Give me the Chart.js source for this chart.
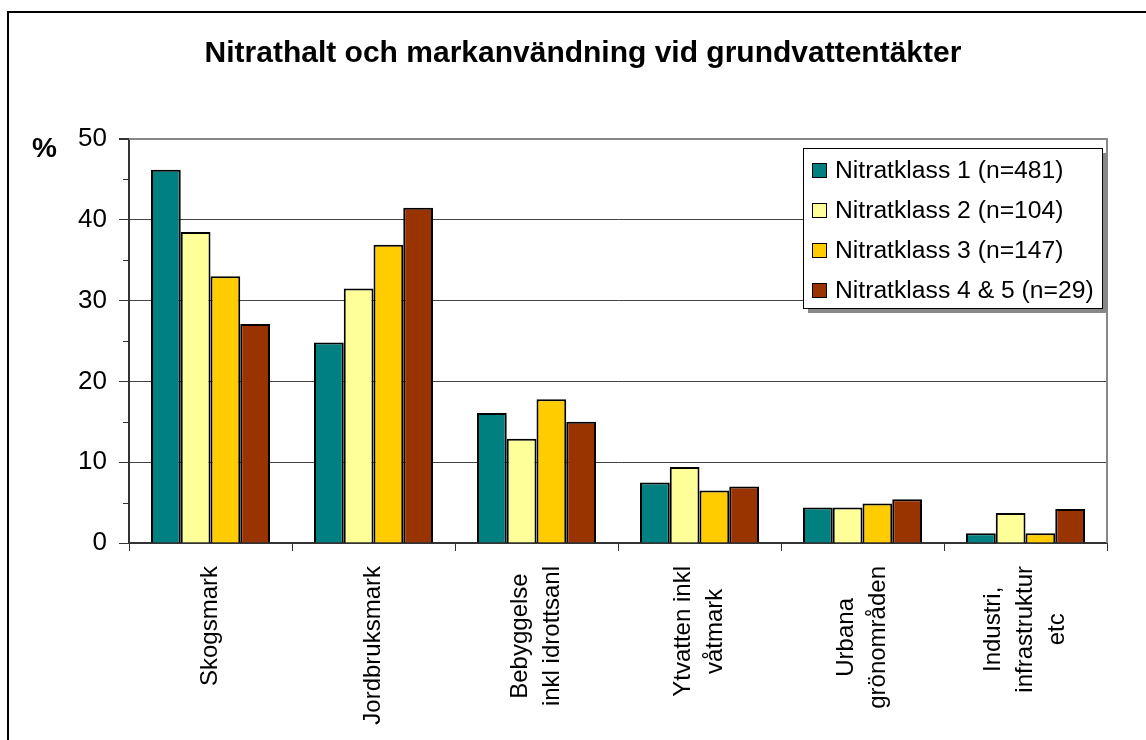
<!DOCTYPE html>
<html>
<head>
<meta charset="utf-8">
<title>Nitrathalt och markanvändning vid grundvattentäkter</title>
<script src="https://cdn.jsdelivr.net/npm/chart.js@4.4.1/dist/chart.umd.min.js"></script>
<style>
    body { margin: 0; background: #fff; overflow: hidden; }
    #frame {
        position: absolute; left: 7px; top: 11px;
        width: 1200px; height: 800px;
        border: 2px solid #000;
    }
    #myChart { position: absolute; left: 0; top: 0; }
</style>
</head>
<body>
<div id="frame"></div>
<canvas id="myChart" width="1146" height="740"></canvas>
<script>
// Data
const categories = [
    "Skogsmark",
    "Jordbruksmark",
    ["Bebyggelse", "inkl idrottsanl"],
    ["Ytvatten inkl", "våtmark"],
    ["Urbana", "grönområden"],
    ["Industri,", "infrastruktur", "etc"]
];
const seriesLabels = [
    "Nitratklass 1 (n=481)",
    "Nitratklass 2 (n=104)",
    "Nitratklass 3 (n=147)",
    "Nitratklass 4 & 5 (n=29)"
];
const klass1 = [46.2, 24.8, 16.1, 7.5, 4.4, 1.2];
const klass2 = [38.5, 31.5, 12.9, 9.4, 4.4, 3.7];
const klass3 = [33.0, 36.9, 17.8, 6.5, 4.9, 1.2];
const klass45 = [27.1, 41.5, 15.0, 7.0, 5.4, 4.2];
const yMin = 0;
const yMax = 50;
const yStep = 10;
const yUnit = "%";

const colors = ["#008080", "#FFFF99", "#FFCC00", "#993300"];
const font = "Arial, 'Liberation Sans', sans-serif";

// plot area frame (grey top/right edge)
const frameLines = {
    id: "frameLines",
    beforeDatasetsDraw(chart) {
        const a = chart.chartArea;
        const ctx = chart.ctx;
        ctx.save();
        ctx.strokeStyle = "#888";
        ctx.lineWidth = 2;
        ctx.beginPath();
        ctx.moveTo(a.left, a.top);
        ctx.lineTo(a.right, a.top);
        ctx.lineTo(a.right, a.bottom);
        ctx.stroke();
        ctx.restore();
    }
};

// minor ticks on y axis, unit label, rotated category labels, legend box
const extras = {
    id: "extras",
    afterDraw(chart) {
        const ctx = chart.ctx;
        const y = chart.scales.y;
        const x = chart.scales.x;
        ctx.save();

        // minor ticks
        ctx.strokeStyle = "#333";
        ctx.lineWidth = 1;
        y.ticks.forEach(function(t) {
            if (t.value % yStep !== 0) {
                const py = Math.round(y.getPixelForValue(t.value)) + 0.5;
                ctx.beginPath();
                ctx.moveTo(y.right - 6, py);
                ctx.lineTo(y.right, py);
                ctx.stroke();
            }
        });

        // unit
        ctx.fillStyle = "#000";
        ctx.font = "bold 28px " + font;
        ctx.textAlign = "left";
        ctx.textBaseline = "alphabetic";
        ctx.fillText(yUnit, 32, 157);

        // category labels, rotated, lines centred on each other
        ctx.font = "24px " + font;
        const lineGap = 32;
        const topY = 566;
        categories.forEach(function(cat, i) {
            const lines = Array.isArray(cat) ? cat : [cat];
            let maxW = 0;
            lines.forEach(function(l) { maxW = Math.max(maxW, ctx.measureText(l).width); });
            const cx = x.getPixelForValue(i);
            lines.forEach(function(l, j) {
                const lx = cx + (j - (lines.length - 1) / 2) * lineGap;
                ctx.save();
                ctx.translate(lx, topY + maxW / 2);
                ctx.rotate(-Math.PI / 2);
                ctx.textAlign = "center";
                ctx.textBaseline = "middle";
                ctx.fillText(l, 0, 0);
                ctx.restore();
            });
        });

        // legend
        const lx = 803, ly = 148, lw = 299, lh = 160;
        ctx.fillStyle = "#888";
        ctx.fillRect(lx + 5, ly + 5, lw, lh);
        ctx.fillStyle = "#fff";
        ctx.fillRect(lx, ly, lw, lh);
        ctx.strokeStyle = "#000";
        ctx.lineWidth = 1;
        ctx.strokeRect(lx + 0.5, ly + 0.5, lw, lh);
        ctx.font = "24.7px " + font;
        ctx.textAlign = "left";
        ctx.textBaseline = "middle";
        chart.data.datasets.forEach(function(ds, i) {
            const ry = ly + 22 + i * 40;
            ctx.fillStyle = ds.backgroundColor;
            ctx.fillRect(812, ry - 7, 15, 15);
            ctx.strokeStyle = "#000";
            ctx.strokeRect(812.5, ry - 6.5, 14, 14);
            ctx.fillStyle = "#000";
            ctx.fillText(ds.label, 835, ry + 1);
        });

        ctx.restore();
    }
};

const ctx = document.getElementById("myChart").getContext("2d");
const allSeries = [klass1, klass2, klass3, klass45];

const myChart = new Chart(ctx, {
    type: "bar",
    data: {
        labels: categories,
        datasets: allSeries.map(function(values, i) {
            return {
                label: seriesLabels[i],
                data: values,
                backgroundColor: colors[i],
                borderColor: "#000",
                borderWidth: 2,
                categoryPercentage: 0.73,
                barPercentage: 1.0
            };
        })
    },
    options: {
        responsive: false,
        animation: false,
        devicePixelRatio: 1,
        layout: {
            padding: { left: 59, right: 39, top: 0, bottom: 0 }
        },
        plugins: {
            legend: { display: false },
            tooltip: { enabled: false },
            title: {
                display: true,
                text: "Nitrathalt och markanvändning vid grundvattentäkter",
                color: "#000",
                font: { family: font, size: 30, weight: "bold" },
                padding: { top: 36, bottom: 67 }
            }
        },
        scales: {
            x: {
                ticks: { display: false },
                grid: {
                    offset: true,
                    drawOnChartArea: false,
                    drawTicks: true,
                    tickLength: 8,
                    color: "#333",
                    lineWidth: 1
                },
                border: { color: "#333", width: 2 },
                afterFit: function(scale) { scale.height = 197; }
            },
            y: {
                min: yMin,
                max: yMax,
                ticks: {
                    stepSize: yStep / 2,
                    color: "#000",
                    font: { family: font, size: 26 },
                    padding: 12,
                    callback: function(v) { return v % yStep === 0 ? v : ""; }
                },
                grid: {
                    color: function(c) {
                        if (c.tick.value % yStep !== 0) return "rgba(0,0,0,0)";
                        return c.tick.value === yMax ? "#888" : "#444";
                    },
                    lineWidth: function(c) { return c.tick.value === yMax ? 2 : 1; },
                    tickColor: function(c) { return c.tick.value % yStep === 0 ? "#333" : "rgba(0,0,0,0)"; },
                    tickLength: 10
                },
                border: { color: "#333", width: 2 },
                afterFit: function(scale) { scale.width = 70; }
            }
        }
    },
    plugins: [frameLines, extras]
});
</script>
</body>
</html>
